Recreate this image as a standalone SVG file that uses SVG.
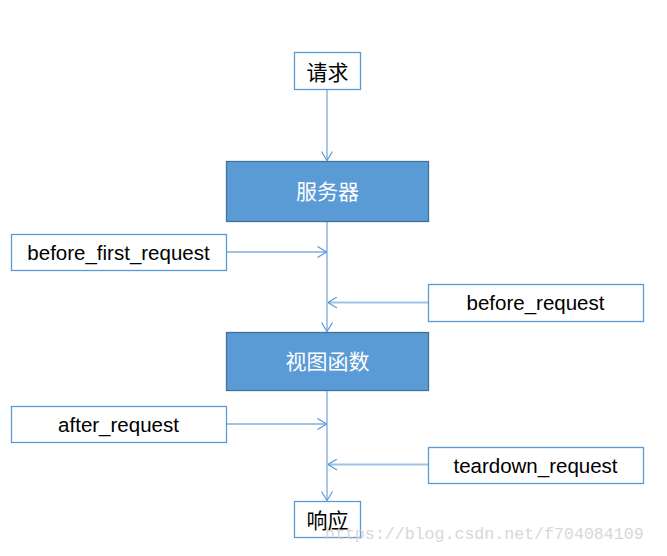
<svg xmlns="http://www.w3.org/2000/svg" width="667" height="556" viewBox="0 0 667 556">
<defs>
<marker id="arr" viewBox="0 0 10 12" refX="10" refY="6" markerWidth="10" markerHeight="12" markerUnits="userSpaceOnUse" orient="auto">
<path d="M1,0.5 L10,6 L1,11.5" fill="none" stroke="#5b9bd5" stroke-width="1.2"/>
</marker>
</defs>
<style>
.wb{fill:#ffffff;stroke:#5b9bd5;stroke-width:1.3}
.bb{fill:#5b9bd5;stroke:#41719c;stroke-width:1.3}
.ln{stroke:#9dc3e6;stroke-width:1.8;fill:none}
.t{font-family:"Liberation Sans",Arial,sans-serif;font-size:20.5px;fill:#000;text-anchor:middle;dominant-baseline:central}
.c{font-family:"Noto Sans CJK SC",sans-serif;font-size:21px;text-anchor:middle;dominant-baseline:central}
.cd{fill:#000}
.cw{fill:#ffffff}
</style>
<rect width="667" height="556" fill="#ffffff"/>
<g id="connectors">
<line class="ln" x1="327" y1="89" x2="327" y2="160.5" marker-end="url(#arr)"/>
<line class="ln" x1="327" y1="222" x2="327" y2="331.5" marker-end="url(#arr)"/>
<line class="ln" x1="226" y1="252" x2="326.5" y2="252" marker-end="url(#arr)"/>
<line class="ln" x1="428" y1="302.5" x2="328" y2="302.5" marker-end="url(#arr)"/>
<line class="ln" x1="327" y1="391" x2="327" y2="500.5" marker-end="url(#arr)"/>
<line class="ln" x1="226" y1="424" x2="326.5" y2="424" marker-end="url(#arr)"/>
<line class="ln" x1="428" y1="464.5" x2="328" y2="464.5" marker-end="url(#arr)"/>
</g>
<g id="n-request">
<rect class="wb" x="294.5" y="52.5" width="66" height="37"/>
<text class="c cd" x="327.5" y="71">请求</text>
</g>
<g id="n-server">
<rect class="bb" x="226.5" y="161.5" width="202" height="60"/>
<text class="c cw" x="327.5" y="190">服务器</text>
</g>
<g id="n-before-first">
<rect class="wb" x="11.5" y="234.5" width="215" height="36"/>
<text class="t" x="118.5" y="252">before_first_request</text>
</g>
<g id="n-before">
<rect class="wb" x="428.5" y="284.5" width="215" height="37"/>
<text class="t" x="535.5" y="302">before_request</text>
</g>
<g id="n-view">
<rect class="bb" x="226.5" y="332.5" width="202" height="58"/>
<text class="c cw" x="327.5" y="360">视图函数</text>
</g>
<g id="n-after">
<rect class="wb" x="11.5" y="406.5" width="215" height="36"/>
<text class="t" x="118.5" y="424">after_request</text>
</g>
<g id="n-teardown">
<rect class="wb" x="428.5" y="447.5" width="215" height="36"/>
<text class="t" x="535.5" y="465">teardown_request</text>
</g>
<g id="n-response">
<rect class="wb" x="294.5" y="501.5" width="66" height="36"/>
<text class="c cd" x="327.5" y="519">响应</text>
</g>
<text x="325" y="539" font-family="Liberation Mono,monospace" font-size="16.6" fill="#d4d4d4" opacity="0.9">https://blog.csdn.net/f704084109</text>
</svg>
